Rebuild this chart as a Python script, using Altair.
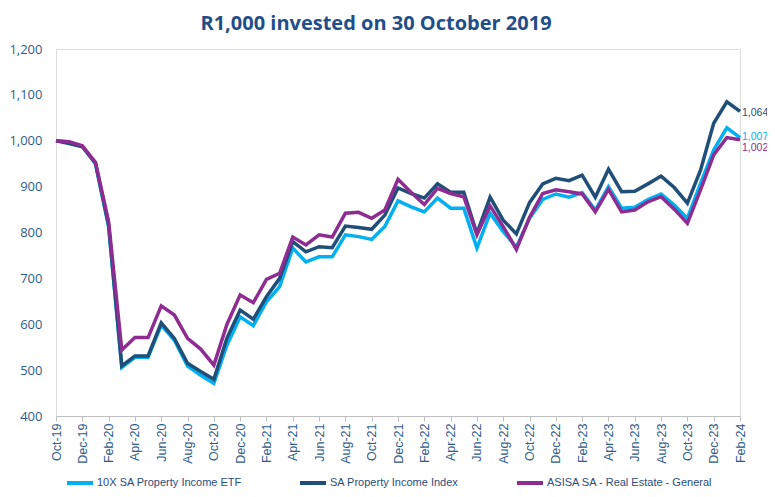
import altair as alt
import pandas as pd

months = list(pd.date_range("2019-10-01", periods=53, freq="MS").strftime("%b-%y"))

series_names = ["10X SA Property Income ETF", "SA Property Income Index", "ASISA SA - Real Estate - General"]
series_colors = ["#00B0F0", "#1F4E79", "#8E2C91"]

etf = [1000, 997, 988, 950, 813, 506, 528, 528, 598, 565, 509, 489, 471,
       555, 616, 597, 649, 682, 766, 736, 747, 747, 795, 791, 785, 813,
       869, 856, 845, 875, 853, 853, 766, 842, 802, 768, 831, 872, 884, 877,
       887, 849, 900, 853, 855, 872, 884, 860, 831, 907, 980, 1028, 1007]
index = [1000, 994, 987, 951, 816, 509, 531, 531, 603, 569, 515, 497, 480,
         570, 631, 611, 660, 700, 780, 758, 769, 767, 814, 811, 807, 838,
         897, 885, 875, 906, 888, 888, 798, 877, 827, 797, 865, 906, 918, 913,
         925, 877, 938, 889, 890, 906, 923, 898, 864, 936, 1038, 1085, 1064]
asisa = [1000, 998, 989, 953, 824, 544, 571, 571, 640, 620, 569, 546, 511,
         600, 664, 647, 698, 711, 790, 773, 795, 790, 842, 844, 831, 849,
         916, 887, 861, 896, 885, 878, 795, 858, 813, 763, 833, 885, 893, 889,
         884, 845, 894, 845, 849, 867, 878, 851, 820, 893, 969, 1007, 1002]

y_ticks = [400, 500, 600, 700, 800, 900, 1000, 1100, 1200]

rows = []
for name, vals in zip(series_names, [etf, index, asisa]):
    for m, v in zip(months, vals):
        rows.append({"month": m, "series": name, "value": v, "order": series_names.index(name)})
df = pd.DataFrame(rows)

axis_color = "#2E5C8A"

x_enc = alt.X("month:O", sort=months,
              scale=alt.Scale(type="point", padding=0),
              axis=alt.Axis(values=months[::2], labelAngle=-90, title=None,
                            labelFont="Liberation Sans", labelFontSize=12.5,
                            labelColor=axis_color, domainColor="#BFBFBF",
                            tickColor="#BFBFBF", tickSize=5, labelPadding=2,
                            grid=False))
y_enc = alt.Y("value:Q", scale=alt.Scale(domain=[400, 1200], nice=False, zero=False),
              axis=alt.Axis(values=y_ticks, format=",d", title=None, domain=False,
                            ticks=False, grid=False, labelFont="Open Sans",
                            labelFontSize=13, labelColor=axis_color, labelPadding=14))

lines = alt.Chart(df).mark_line(strokeWidth=3.5).encode(
    x=x_enc,
    y=y_enc,
    color=alt.Color("series:N", sort=series_names,
                    scale=alt.Scale(domain=series_names, range=series_colors),
                    legend=alt.Legend(title=None, orient="none", direction="horizontal",
                                      legendX=9, legendY=419,
                                      symbolType="stroke", symbolSize=676,
                                      symbolStrokeWidth=4, labelOffset=2,
                                      columnPadding=50, labelLimit=400,
                                      labelFont="Liberation Sans",
                                      labelFontSize=11, labelColor="#2B4C7E")),
    order=alt.Order("order:Q"),
)

last = df[df["month"] == months[-1]]
label_layers = []
for name, color, dy in zip(series_names, series_colors, [-1, 2, 8]):
    label_layers.append(
        alt.Chart(last[last["series"] == name]).mark_text(
            align="left", baseline="middle", dx=2, dy=dy, font="Liberation Sans",
            fontSize=10.5, color=color
        ).encode(x=alt.X("month:O", sort=months), y=alt.Y("value:Q"),
                 text=alt.Text("value:Q", format=",d"))
    )

chart = alt.layer(lines, *label_layers).properties(
    width=684, height=367,
    title=alt.TitleParams("R1,000 invested on 30 October 2019", font="Open Sans",
                          fontSize=20, fontWeight="bold", color="#1F4E89",
                          anchor="middle", dx=-22, offset=9),
    autosize=alt.AutoSizeParams(type="none"),
    padding={"left": 48, "top": 41, "right": 27, "bottom": 73},
).configure_view(stroke=None).configure(background="white")

chart.save("out.html", embed_options={"renderer": "svg", "actions": False})
